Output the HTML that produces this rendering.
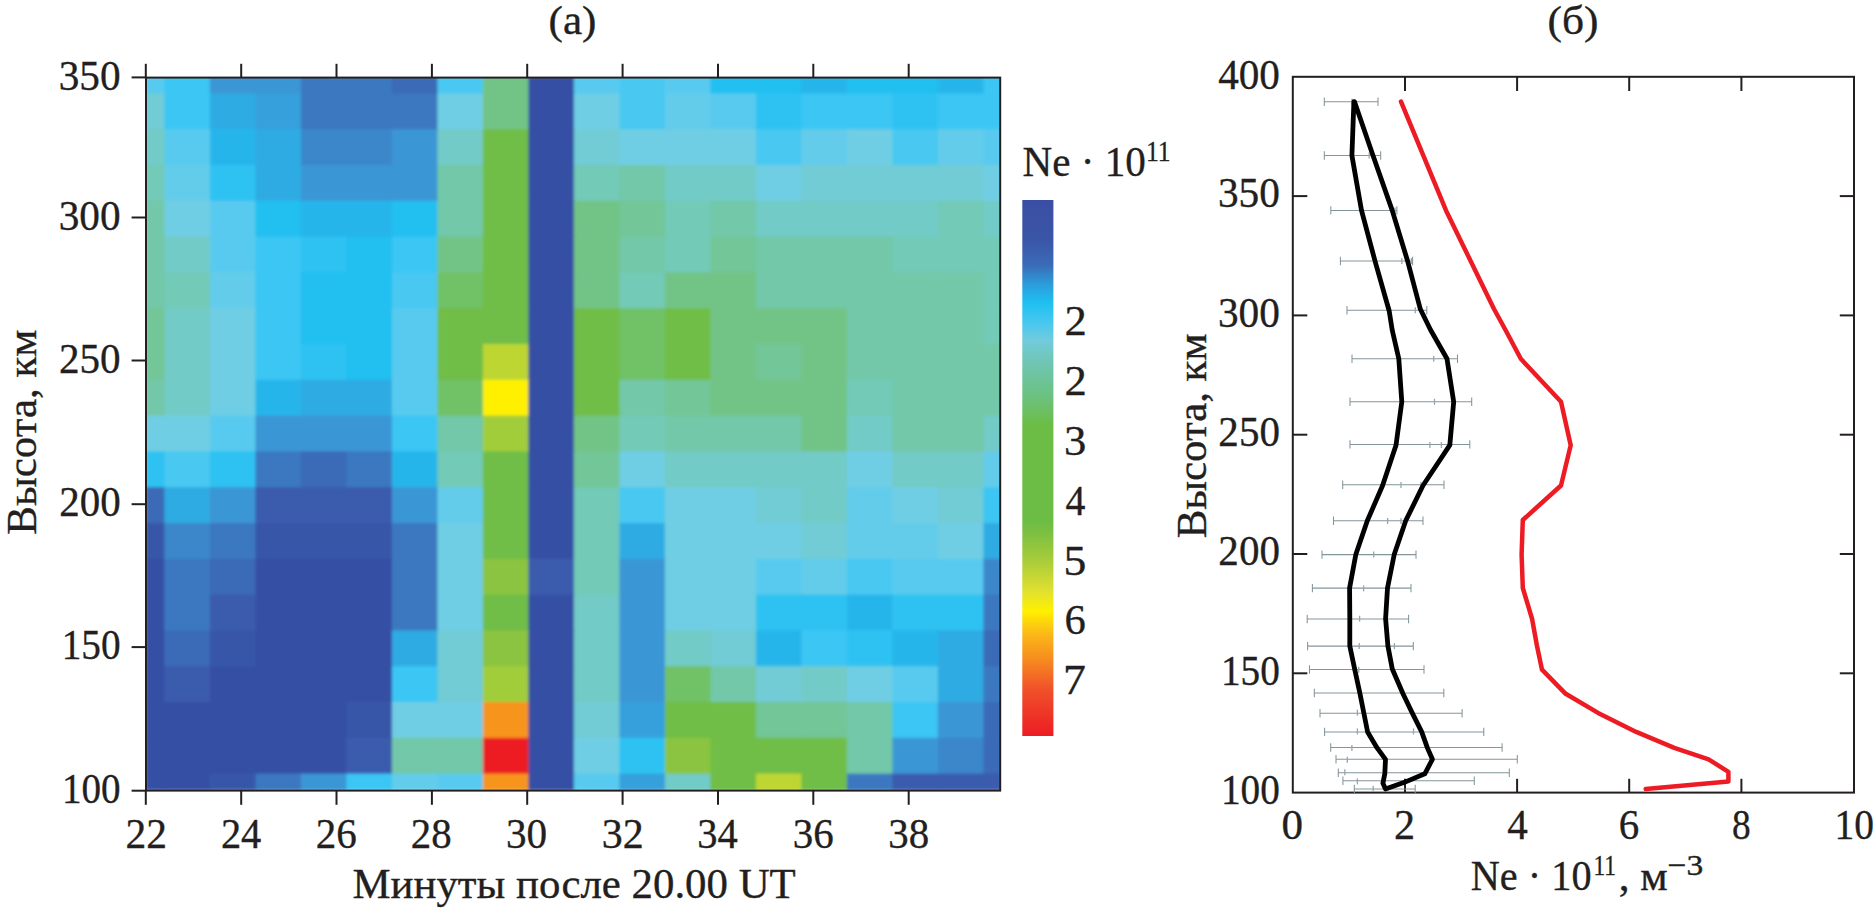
<!DOCTYPE html>
<html lang="ru"><head><meta charset="utf-8"><title>Figure</title>
<style>html,body{margin:0;padding:0;background:#fff}svg{display:block}text{font-family:"Liberation Serif","DejaVu Serif",serif;fill:#231f20;stroke:#231f20;stroke-width:.35px}</style></head><body>
<svg width="1874" height="912" viewBox="0 0 1874 912">
<rect width="1874" height="912" fill="#fff"/>
<defs><clipPath id="hc"><rect x="146" y="77" width="855" height="713"/></clipPath>
<filter id="bl" x="-5%" y="-5%" width="110%" height="110%"><feGaussianBlur stdDeviation="1.5"/></filter>
<linearGradient id="cb" x1="0" y1="0" x2="0" y2="1"><stop offset="0.0000" stop-color="#3a4fa3"/><stop offset="0.0733" stop-color="#3a55a6"/><stop offset="0.1218" stop-color="#3a6cb8"/><stop offset="0.1591" stop-color="#2a9fdc"/><stop offset="0.1926" stop-color="#1fc0f2"/><stop offset="0.2336" stop-color="#4cc8ee"/><stop offset="0.2616" stop-color="#72cbdc"/><stop offset="0.3082" stop-color="#6fc5ae"/><stop offset="0.3642" stop-color="#6cc282"/><stop offset="0.4201" stop-color="#6cbd45"/><stop offset="0.5972" stop-color="#6cbd45"/><stop offset="0.6159" stop-color="#78bf42"/><stop offset="0.6681" stop-color="#a4cb3a"/><stop offset="0.7296" stop-color="#e0e030"/><stop offset="0.7669" stop-color="#fff000"/><stop offset="0.8098" stop-color="#fbb818"/><stop offset="0.8527" stop-color="#f7901e"/><stop offset="0.9142" stop-color="#f0502a"/><stop offset="1.0000" stop-color="#ed1c24"/></linearGradient></defs>
<g clip-path="url(#hc)"><g filter="url(#bl)"><rect x="145.4" y="76.4" width="20.2" height="18.2" fill="#58caef"/>
<rect x="164.4" y="76.4" width="46.7" height="18.2" fill="#3ac6f4"/>
<rect x="209.9" y="76.4" width="46.7" height="18.2" fill="#3a96d5"/>
<rect x="255.4" y="76.4" width="46.7" height="18.2" fill="#3a96d5"/>
<rect x="300.9" y="76.4" width="46.7" height="18.2" fill="#3b78c0"/>
<rect x="346.4" y="76.4" width="46.7" height="18.2" fill="#3b78c0"/>
<rect x="391.9" y="76.4" width="46.7" height="18.2" fill="#3a6ab6"/>
<rect x="437.4" y="76.4" width="46.7" height="18.2" fill="#49c8f2"/>
<rect x="482.9" y="76.4" width="46.7" height="18.2" fill="#72c486"/>
<rect x="528.4" y="76.4" width="46.7" height="18.2" fill="#3650a4"/>
<rect x="573.9" y="76.4" width="46.7" height="18.2" fill="#58caef"/>
<rect x="619.4" y="76.4" width="46.7" height="18.2" fill="#49c8f2"/>
<rect x="664.9" y="76.4" width="46.7" height="18.2" fill="#58caef"/>
<rect x="710.4" y="76.4" width="46.7" height="18.2" fill="#20bff1"/>
<rect x="755.9" y="76.4" width="46.7" height="18.2" fill="#20bff1"/>
<rect x="801.4" y="76.4" width="46.7" height="18.2" fill="#27b5ea"/>
<rect x="846.9" y="76.4" width="46.7" height="18.2" fill="#20bff1"/>
<rect x="892.4" y="76.4" width="46.7" height="18.2" fill="#20bff1"/>
<rect x="937.9" y="76.4" width="46.7" height="18.2" fill="#27b5ea"/>
<rect x="983.4" y="76.4" width="18.2" height="18.2" fill="#3ac6f4"/>
<rect x="145.4" y="93.4" width="20.2" height="37.0" fill="#71ccd5"/>
<rect x="164.4" y="93.4" width="46.7" height="37.0" fill="#3ac6f4"/>
<rect x="209.9" y="93.4" width="46.7" height="37.0" fill="#2eabe3"/>
<rect x="255.4" y="93.4" width="46.7" height="37.0" fill="#34a0dc"/>
<rect x="300.9" y="93.4" width="46.7" height="37.0" fill="#3b78c0"/>
<rect x="346.4" y="93.4" width="46.7" height="37.0" fill="#3b78c0"/>
<rect x="391.9" y="93.4" width="46.7" height="37.0" fill="#3b78c0"/>
<rect x="437.4" y="93.4" width="46.7" height="37.0" fill="#70cee4"/>
<rect x="482.9" y="93.4" width="46.7" height="37.0" fill="#72c486"/>
<rect x="528.4" y="93.4" width="46.7" height="37.0" fill="#3650a4"/>
<rect x="573.9" y="93.4" width="46.7" height="37.0" fill="#70cee4"/>
<rect x="619.4" y="93.4" width="46.7" height="37.0" fill="#49c8f2"/>
<rect x="664.9" y="93.4" width="46.7" height="37.0" fill="#64ccea"/>
<rect x="710.4" y="93.4" width="46.7" height="37.0" fill="#58caef"/>
<rect x="755.9" y="93.4" width="46.7" height="37.0" fill="#2dc2f2"/>
<rect x="801.4" y="93.4" width="46.7" height="37.0" fill="#3ac6f4"/>
<rect x="846.9" y="93.4" width="46.7" height="37.0" fill="#3ac6f4"/>
<rect x="892.4" y="93.4" width="46.7" height="37.0" fill="#2dc2f2"/>
<rect x="937.9" y="93.4" width="46.7" height="37.0" fill="#3ac6f4"/>
<rect x="983.4" y="93.4" width="18.2" height="37.0" fill="#3ac6f4"/>
<rect x="145.4" y="129.2" width="20.2" height="37.0" fill="#72cbc6"/>
<rect x="164.4" y="129.2" width="46.7" height="37.0" fill="#58caef"/>
<rect x="209.9" y="129.2" width="46.7" height="37.0" fill="#27b5ea"/>
<rect x="255.4" y="129.2" width="46.7" height="37.0" fill="#2eabe3"/>
<rect x="300.9" y="129.2" width="46.7" height="37.0" fill="#3a87ca"/>
<rect x="346.4" y="129.2" width="46.7" height="37.0" fill="#3a87ca"/>
<rect x="391.9" y="129.2" width="46.7" height="37.0" fill="#3a96d5"/>
<rect x="437.4" y="129.2" width="46.7" height="37.0" fill="#72cbc6"/>
<rect x="482.9" y="129.2" width="46.7" height="37.0" fill="#70be46"/>
<rect x="528.4" y="129.2" width="46.7" height="37.0" fill="#3650a4"/>
<rect x="573.9" y="129.2" width="46.7" height="37.0" fill="#71ccd5"/>
<rect x="619.4" y="129.2" width="46.7" height="37.0" fill="#70cee4"/>
<rect x="664.9" y="129.2" width="46.7" height="37.0" fill="#70cee4"/>
<rect x="710.4" y="129.2" width="46.7" height="37.0" fill="#70cee4"/>
<rect x="755.9" y="129.2" width="46.7" height="37.0" fill="#49c8f2"/>
<rect x="801.4" y="129.2" width="46.7" height="37.0" fill="#64ccea"/>
<rect x="846.9" y="129.2" width="46.7" height="37.0" fill="#70cee4"/>
<rect x="892.4" y="129.2" width="46.7" height="37.0" fill="#49c8f2"/>
<rect x="937.9" y="129.2" width="46.7" height="37.0" fill="#64ccea"/>
<rect x="983.4" y="129.2" width="18.2" height="37.0" fill="#58caef"/>
<rect x="145.4" y="165.0" width="20.2" height="37.0" fill="#72cab7"/>
<rect x="164.4" y="165.0" width="46.7" height="37.0" fill="#64ccea"/>
<rect x="209.9" y="165.0" width="46.7" height="37.0" fill="#2dc2f2"/>
<rect x="255.4" y="165.0" width="46.7" height="37.0" fill="#2eabe3"/>
<rect x="300.9" y="165.0" width="46.7" height="37.0" fill="#3a96d5"/>
<rect x="346.4" y="165.0" width="46.7" height="37.0" fill="#3a96d5"/>
<rect x="391.9" y="165.0" width="46.7" height="37.0" fill="#3a96d5"/>
<rect x="437.4" y="165.0" width="46.7" height="37.0" fill="#72c8a8"/>
<rect x="482.9" y="165.0" width="46.7" height="37.0" fill="#70be46"/>
<rect x="528.4" y="165.0" width="46.7" height="37.0" fill="#3650a4"/>
<rect x="573.9" y="165.0" width="46.7" height="37.0" fill="#72cab7"/>
<rect x="619.4" y="165.0" width="46.7" height="37.0" fill="#72c8a8"/>
<rect x="664.9" y="165.0" width="46.7" height="37.0" fill="#72cbc6"/>
<rect x="710.4" y="165.0" width="46.7" height="37.0" fill="#72cbc6"/>
<rect x="755.9" y="165.0" width="46.7" height="37.0" fill="#70cee4"/>
<rect x="801.4" y="165.0" width="46.7" height="37.0" fill="#71ccd5"/>
<rect x="846.9" y="165.0" width="46.7" height="37.0" fill="#71ccd5"/>
<rect x="892.4" y="165.0" width="46.7" height="37.0" fill="#71ccd5"/>
<rect x="937.9" y="165.0" width="46.7" height="37.0" fill="#71ccd5"/>
<rect x="983.4" y="165.0" width="18.2" height="37.0" fill="#70cee4"/>
<rect x="145.4" y="200.8" width="20.2" height="37.0" fill="#72c8a8"/>
<rect x="164.4" y="200.8" width="46.7" height="37.0" fill="#70cee4"/>
<rect x="209.9" y="200.8" width="46.7" height="37.0" fill="#58caef"/>
<rect x="255.4" y="200.8" width="46.7" height="37.0" fill="#20bff1"/>
<rect x="300.9" y="200.8" width="46.7" height="37.0" fill="#27b5ea"/>
<rect x="346.4" y="200.8" width="46.7" height="37.0" fill="#27b5ea"/>
<rect x="391.9" y="200.8" width="46.7" height="37.0" fill="#20bff1"/>
<rect x="437.4" y="200.8" width="46.7" height="37.0" fill="#72c8a8"/>
<rect x="482.9" y="200.8" width="46.7" height="37.0" fill="#70be46"/>
<rect x="528.4" y="200.8" width="46.7" height="37.0" fill="#3650a4"/>
<rect x="573.9" y="200.8" width="46.7" height="37.0" fill="#72c486"/>
<rect x="619.4" y="200.8" width="46.7" height="37.0" fill="#72c697"/>
<rect x="664.9" y="200.8" width="46.7" height="37.0" fill="#72cab7"/>
<rect x="710.4" y="200.8" width="46.7" height="37.0" fill="#72c8a8"/>
<rect x="755.9" y="200.8" width="46.7" height="37.0" fill="#72cbc6"/>
<rect x="801.4" y="200.8" width="46.7" height="37.0" fill="#72cbc6"/>
<rect x="846.9" y="200.8" width="46.7" height="37.0" fill="#72cbc6"/>
<rect x="892.4" y="200.8" width="46.7" height="37.0" fill="#72cbc6"/>
<rect x="937.9" y="200.8" width="46.7" height="37.0" fill="#72cab7"/>
<rect x="983.4" y="200.8" width="18.2" height="37.0" fill="#72cbc6"/>
<rect x="145.4" y="236.6" width="20.2" height="37.0" fill="#72c8a8"/>
<rect x="164.4" y="236.6" width="46.7" height="37.0" fill="#72cbc6"/>
<rect x="209.9" y="236.6" width="46.7" height="37.0" fill="#58caef"/>
<rect x="255.4" y="236.6" width="46.7" height="37.0" fill="#3ac6f4"/>
<rect x="300.9" y="236.6" width="46.7" height="37.0" fill="#2dc2f2"/>
<rect x="346.4" y="236.6" width="46.7" height="37.0" fill="#20bff1"/>
<rect x="391.9" y="236.6" width="46.7" height="37.0" fill="#3ac6f4"/>
<rect x="437.4" y="236.6" width="46.7" height="37.0" fill="#72c486"/>
<rect x="482.9" y="236.6" width="46.7" height="37.0" fill="#70be46"/>
<rect x="528.4" y="236.6" width="46.7" height="37.0" fill="#3650a4"/>
<rect x="573.9" y="236.6" width="46.7" height="37.0" fill="#72c486"/>
<rect x="619.4" y="236.6" width="46.7" height="37.0" fill="#72c8a8"/>
<rect x="664.9" y="236.6" width="46.7" height="37.0" fill="#72cab7"/>
<rect x="710.4" y="236.6" width="46.7" height="37.0" fill="#72c697"/>
<rect x="755.9" y="236.6" width="46.7" height="37.0" fill="#72c8a8"/>
<rect x="801.4" y="236.6" width="46.7" height="37.0" fill="#72c8a8"/>
<rect x="846.9" y="236.6" width="46.7" height="37.0" fill="#72c8a8"/>
<rect x="892.4" y="236.6" width="46.7" height="37.0" fill="#72cab7"/>
<rect x="937.9" y="236.6" width="46.7" height="37.0" fill="#72cab7"/>
<rect x="983.4" y="236.6" width="18.2" height="37.0" fill="#72cab7"/>
<rect x="145.4" y="272.4" width="20.2" height="37.0" fill="#72c8a8"/>
<rect x="164.4" y="272.4" width="46.7" height="37.0" fill="#72cab7"/>
<rect x="209.9" y="272.4" width="46.7" height="37.0" fill="#64ccea"/>
<rect x="255.4" y="272.4" width="46.7" height="37.0" fill="#3ac6f4"/>
<rect x="300.9" y="272.4" width="46.7" height="37.0" fill="#20bff1"/>
<rect x="346.4" y="272.4" width="46.7" height="37.0" fill="#20bff1"/>
<rect x="391.9" y="272.4" width="46.7" height="37.0" fill="#49c8f2"/>
<rect x="437.4" y="272.4" width="46.7" height="37.0" fill="#71c166"/>
<rect x="482.9" y="272.4" width="46.7" height="37.0" fill="#70be46"/>
<rect x="528.4" y="272.4" width="46.7" height="37.0" fill="#3650a4"/>
<rect x="573.9" y="272.4" width="46.7" height="37.0" fill="#72c486"/>
<rect x="619.4" y="272.4" width="46.7" height="37.0" fill="#72cab7"/>
<rect x="664.9" y="272.4" width="46.7" height="37.0" fill="#72c486"/>
<rect x="710.4" y="272.4" width="46.7" height="37.0" fill="#72c486"/>
<rect x="755.9" y="272.4" width="46.7" height="37.0" fill="#72c8a8"/>
<rect x="801.4" y="272.4" width="46.7" height="37.0" fill="#72c8a8"/>
<rect x="846.9" y="272.4" width="46.7" height="37.0" fill="#72c8a8"/>
<rect x="892.4" y="272.4" width="46.7" height="37.0" fill="#72c8a8"/>
<rect x="937.9" y="272.4" width="46.7" height="37.0" fill="#72c8a8"/>
<rect x="983.4" y="272.4" width="18.2" height="37.0" fill="#72cab7"/>
<rect x="145.4" y="308.2" width="20.2" height="37.0" fill="#72c697"/>
<rect x="164.4" y="308.2" width="46.7" height="37.0" fill="#72cbc6"/>
<rect x="209.9" y="308.2" width="46.7" height="37.0" fill="#70cee4"/>
<rect x="255.4" y="308.2" width="46.7" height="37.0" fill="#3ac6f4"/>
<rect x="300.9" y="308.2" width="46.7" height="37.0" fill="#20bff1"/>
<rect x="346.4" y="308.2" width="46.7" height="37.0" fill="#20bff1"/>
<rect x="391.9" y="308.2" width="46.7" height="37.0" fill="#58caef"/>
<rect x="437.4" y="308.2" width="46.7" height="37.0" fill="#70be46"/>
<rect x="482.9" y="308.2" width="46.7" height="37.0" fill="#70be46"/>
<rect x="528.4" y="308.2" width="46.7" height="37.0" fill="#3650a4"/>
<rect x="573.9" y="308.2" width="46.7" height="37.0" fill="#70be46"/>
<rect x="619.4" y="308.2" width="46.7" height="37.0" fill="#71c166"/>
<rect x="664.9" y="308.2" width="46.7" height="37.0" fill="#70be46"/>
<rect x="710.4" y="308.2" width="46.7" height="37.0" fill="#72c486"/>
<rect x="755.9" y="308.2" width="46.7" height="37.0" fill="#72c486"/>
<rect x="801.4" y="308.2" width="46.7" height="37.0" fill="#72c486"/>
<rect x="846.9" y="308.2" width="46.7" height="37.0" fill="#72c8a8"/>
<rect x="892.4" y="308.2" width="46.7" height="37.0" fill="#72c8a8"/>
<rect x="937.9" y="308.2" width="46.7" height="37.0" fill="#72c8a8"/>
<rect x="983.4" y="308.2" width="18.2" height="37.0" fill="#72cab7"/>
<rect x="145.4" y="344.0" width="20.2" height="37.0" fill="#72c697"/>
<rect x="164.4" y="344.0" width="46.7" height="37.0" fill="#72cbc6"/>
<rect x="209.9" y="344.0" width="46.7" height="37.0" fill="#70cee4"/>
<rect x="255.4" y="344.0" width="46.7" height="37.0" fill="#3ac6f4"/>
<rect x="300.9" y="344.0" width="46.7" height="37.0" fill="#2dc2f2"/>
<rect x="346.4" y="344.0" width="46.7" height="37.0" fill="#20bff1"/>
<rect x="391.9" y="344.0" width="46.7" height="37.0" fill="#58caef"/>
<rect x="437.4" y="344.0" width="46.7" height="37.0" fill="#70be46"/>
<rect x="482.9" y="344.0" width="46.7" height="37.0" fill="#bdd632"/>
<rect x="528.4" y="344.0" width="46.7" height="37.0" fill="#3650a4"/>
<rect x="573.9" y="344.0" width="46.7" height="37.0" fill="#70be46"/>
<rect x="619.4" y="344.0" width="46.7" height="37.0" fill="#71c166"/>
<rect x="664.9" y="344.0" width="46.7" height="37.0" fill="#70be46"/>
<rect x="710.4" y="344.0" width="46.7" height="37.0" fill="#72c486"/>
<rect x="755.9" y="344.0" width="46.7" height="37.0" fill="#72c697"/>
<rect x="801.4" y="344.0" width="46.7" height="37.0" fill="#72c486"/>
<rect x="846.9" y="344.0" width="46.7" height="37.0" fill="#72c8a8"/>
<rect x="892.4" y="344.0" width="46.7" height="37.0" fill="#72c8a8"/>
<rect x="937.9" y="344.0" width="46.7" height="37.0" fill="#72c8a8"/>
<rect x="983.4" y="344.0" width="18.2" height="37.0" fill="#72c8a8"/>
<rect x="145.4" y="379.8" width="20.2" height="37.0" fill="#72c8a8"/>
<rect x="164.4" y="379.8" width="46.7" height="37.0" fill="#72cbc6"/>
<rect x="209.9" y="379.8" width="46.7" height="37.0" fill="#70cee4"/>
<rect x="255.4" y="379.8" width="46.7" height="37.0" fill="#27b5ea"/>
<rect x="300.9" y="379.8" width="46.7" height="37.0" fill="#2eabe3"/>
<rect x="346.4" y="379.8" width="46.7" height="37.0" fill="#2eabe3"/>
<rect x="391.9" y="379.8" width="46.7" height="37.0" fill="#58caef"/>
<rect x="437.4" y="379.8" width="46.7" height="37.0" fill="#71c166"/>
<rect x="482.9" y="379.8" width="46.7" height="37.0" fill="#fff000"/>
<rect x="528.4" y="379.8" width="46.7" height="37.0" fill="#3650a4"/>
<rect x="573.9" y="379.8" width="46.7" height="37.0" fill="#70be46"/>
<rect x="619.4" y="379.8" width="46.7" height="37.0" fill="#72c8a8"/>
<rect x="664.9" y="379.8" width="46.7" height="37.0" fill="#72c697"/>
<rect x="710.4" y="379.8" width="46.7" height="37.0" fill="#72c486"/>
<rect x="755.9" y="379.8" width="46.7" height="37.0" fill="#72c486"/>
<rect x="801.4" y="379.8" width="46.7" height="37.0" fill="#72c486"/>
<rect x="846.9" y="379.8" width="46.7" height="37.0" fill="#72cab7"/>
<rect x="892.4" y="379.8" width="46.7" height="37.0" fill="#72c8a8"/>
<rect x="937.9" y="379.8" width="46.7" height="37.0" fill="#72c8a8"/>
<rect x="983.4" y="379.8" width="18.2" height="37.0" fill="#72c8a8"/>
<rect x="145.4" y="415.6" width="20.2" height="37.0" fill="#70cee4"/>
<rect x="164.4" y="415.6" width="46.7" height="37.0" fill="#70cee4"/>
<rect x="209.9" y="415.6" width="46.7" height="37.0" fill="#58caef"/>
<rect x="255.4" y="415.6" width="46.7" height="37.0" fill="#3a96d5"/>
<rect x="300.9" y="415.6" width="46.7" height="37.0" fill="#3a96d5"/>
<rect x="346.4" y="415.6" width="46.7" height="37.0" fill="#3a96d5"/>
<rect x="391.9" y="415.6" width="46.7" height="37.0" fill="#3ac6f4"/>
<rect x="437.4" y="415.6" width="46.7" height="37.0" fill="#72c8a8"/>
<rect x="482.9" y="415.6" width="46.7" height="37.0" fill="#a2cd3b"/>
<rect x="528.4" y="415.6" width="46.7" height="37.0" fill="#3650a4"/>
<rect x="573.9" y="415.6" width="46.7" height="37.0" fill="#72c486"/>
<rect x="619.4" y="415.6" width="46.7" height="37.0" fill="#72cab7"/>
<rect x="664.9" y="415.6" width="46.7" height="37.0" fill="#72c8a8"/>
<rect x="710.4" y="415.6" width="46.7" height="37.0" fill="#72c8a8"/>
<rect x="755.9" y="415.6" width="46.7" height="37.0" fill="#72c8a8"/>
<rect x="801.4" y="415.6" width="46.7" height="37.0" fill="#72c486"/>
<rect x="846.9" y="415.6" width="46.7" height="37.0" fill="#72cbc6"/>
<rect x="892.4" y="415.6" width="46.7" height="37.0" fill="#72c8a8"/>
<rect x="937.9" y="415.6" width="46.7" height="37.0" fill="#72c8a8"/>
<rect x="983.4" y="415.6" width="18.2" height="37.0" fill="#72cbc6"/>
<rect x="145.4" y="451.4" width="20.2" height="37.0" fill="#2dc2f2"/>
<rect x="164.4" y="451.4" width="46.7" height="37.0" fill="#49c8f2"/>
<rect x="209.9" y="451.4" width="46.7" height="37.0" fill="#2dc2f2"/>
<rect x="255.4" y="451.4" width="46.7" height="37.0" fill="#3b78c0"/>
<rect x="300.9" y="451.4" width="46.7" height="37.0" fill="#3a6ab6"/>
<rect x="346.4" y="451.4" width="46.7" height="37.0" fill="#3b78c0"/>
<rect x="391.9" y="451.4" width="46.7" height="37.0" fill="#27b5ea"/>
<rect x="437.4" y="451.4" width="46.7" height="37.0" fill="#72cab7"/>
<rect x="482.9" y="451.4" width="46.7" height="37.0" fill="#70be46"/>
<rect x="528.4" y="451.4" width="46.7" height="37.0" fill="#3650a4"/>
<rect x="573.9" y="451.4" width="46.7" height="37.0" fill="#72c697"/>
<rect x="619.4" y="451.4" width="46.7" height="37.0" fill="#70cee4"/>
<rect x="664.9" y="451.4" width="46.7" height="37.0" fill="#72cbc6"/>
<rect x="710.4" y="451.4" width="46.7" height="37.0" fill="#72cbc6"/>
<rect x="755.9" y="451.4" width="46.7" height="37.0" fill="#72cbc6"/>
<rect x="801.4" y="451.4" width="46.7" height="37.0" fill="#72cbc6"/>
<rect x="846.9" y="451.4" width="46.7" height="37.0" fill="#70cee4"/>
<rect x="892.4" y="451.4" width="46.7" height="37.0" fill="#72cbc6"/>
<rect x="937.9" y="451.4" width="46.7" height="37.0" fill="#72cbc6"/>
<rect x="983.4" y="451.4" width="18.2" height="37.0" fill="#64ccea"/>
<rect x="145.4" y="487.2" width="20.2" height="37.0" fill="#3a6ab6"/>
<rect x="164.4" y="487.2" width="46.7" height="37.0" fill="#2eabe3"/>
<rect x="209.9" y="487.2" width="46.7" height="37.0" fill="#3a96d5"/>
<rect x="255.4" y="487.2" width="46.7" height="37.0" fill="#3a5cad"/>
<rect x="300.9" y="487.2" width="46.7" height="37.0" fill="#3a5cad"/>
<rect x="346.4" y="487.2" width="46.7" height="37.0" fill="#3a5cad"/>
<rect x="391.9" y="487.2" width="46.7" height="37.0" fill="#3a96d5"/>
<rect x="437.4" y="487.2" width="46.7" height="37.0" fill="#64ccea"/>
<rect x="482.9" y="487.2" width="46.7" height="37.0" fill="#70be46"/>
<rect x="528.4" y="487.2" width="46.7" height="37.0" fill="#3650a4"/>
<rect x="573.9" y="487.2" width="46.7" height="37.0" fill="#72cab7"/>
<rect x="619.4" y="487.2" width="46.7" height="37.0" fill="#49c8f2"/>
<rect x="664.9" y="487.2" width="46.7" height="37.0" fill="#70cee4"/>
<rect x="710.4" y="487.2" width="46.7" height="37.0" fill="#70cee4"/>
<rect x="755.9" y="487.2" width="46.7" height="37.0" fill="#71ccd5"/>
<rect x="801.4" y="487.2" width="46.7" height="37.0" fill="#72cbc6"/>
<rect x="846.9" y="487.2" width="46.7" height="37.0" fill="#64ccea"/>
<rect x="892.4" y="487.2" width="46.7" height="37.0" fill="#70cee4"/>
<rect x="937.9" y="487.2" width="46.7" height="37.0" fill="#71ccd5"/>
<rect x="983.4" y="487.2" width="18.2" height="37.0" fill="#3ac6f4"/>
<rect x="145.4" y="523.0" width="20.2" height="37.0" fill="#3856a8"/>
<rect x="164.4" y="523.0" width="46.7" height="37.0" fill="#3a87ca"/>
<rect x="209.9" y="523.0" width="46.7" height="37.0" fill="#3b78c0"/>
<rect x="255.4" y="523.0" width="46.7" height="37.0" fill="#3856a8"/>
<rect x="300.9" y="523.0" width="46.7" height="37.0" fill="#3856a8"/>
<rect x="346.4" y="523.0" width="46.7" height="37.0" fill="#3856a8"/>
<rect x="391.9" y="523.0" width="46.7" height="37.0" fill="#3b78c0"/>
<rect x="437.4" y="523.0" width="46.7" height="37.0" fill="#70cee4"/>
<rect x="482.9" y="523.0" width="46.7" height="37.0" fill="#70be46"/>
<rect x="528.4" y="523.0" width="46.7" height="37.0" fill="#3650a4"/>
<rect x="573.9" y="523.0" width="46.7" height="37.0" fill="#72cab7"/>
<rect x="619.4" y="523.0" width="46.7" height="37.0" fill="#2eabe3"/>
<rect x="664.9" y="523.0" width="46.7" height="37.0" fill="#70cee4"/>
<rect x="710.4" y="523.0" width="46.7" height="37.0" fill="#70cee4"/>
<rect x="755.9" y="523.0" width="46.7" height="37.0" fill="#70cee4"/>
<rect x="801.4" y="523.0" width="46.7" height="37.0" fill="#71ccd5"/>
<rect x="846.9" y="523.0" width="46.7" height="37.0" fill="#64ccea"/>
<rect x="892.4" y="523.0" width="46.7" height="37.0" fill="#64ccea"/>
<rect x="937.9" y="523.0" width="46.7" height="37.0" fill="#70cee4"/>
<rect x="983.4" y="523.0" width="18.2" height="37.0" fill="#2eabe3"/>
<rect x="145.4" y="558.8" width="20.2" height="37.0" fill="#3650a4"/>
<rect x="164.4" y="558.8" width="46.7" height="37.0" fill="#3b78c0"/>
<rect x="209.9" y="558.8" width="46.7" height="37.0" fill="#3a6ab6"/>
<rect x="255.4" y="558.8" width="46.7" height="37.0" fill="#3650a4"/>
<rect x="300.9" y="558.8" width="46.7" height="37.0" fill="#3650a4"/>
<rect x="346.4" y="558.8" width="46.7" height="37.0" fill="#3650a4"/>
<rect x="391.9" y="558.8" width="46.7" height="37.0" fill="#3b78c0"/>
<rect x="437.4" y="558.8" width="46.7" height="37.0" fill="#70cee4"/>
<rect x="482.9" y="558.8" width="46.7" height="37.0" fill="#8ac440"/>
<rect x="528.4" y="558.8" width="46.7" height="37.0" fill="#3a5cad"/>
<rect x="573.9" y="558.8" width="46.7" height="37.0" fill="#72cab7"/>
<rect x="619.4" y="558.8" width="46.7" height="37.0" fill="#3a96d5"/>
<rect x="664.9" y="558.8" width="46.7" height="37.0" fill="#70cee4"/>
<rect x="710.4" y="558.8" width="46.7" height="37.0" fill="#70cee4"/>
<rect x="755.9" y="558.8" width="46.7" height="37.0" fill="#58caef"/>
<rect x="801.4" y="558.8" width="46.7" height="37.0" fill="#64ccea"/>
<rect x="846.9" y="558.8" width="46.7" height="37.0" fill="#49c8f2"/>
<rect x="892.4" y="558.8" width="46.7" height="37.0" fill="#58caef"/>
<rect x="937.9" y="558.8" width="46.7" height="37.0" fill="#58caef"/>
<rect x="983.4" y="558.8" width="18.2" height="37.0" fill="#3a87ca"/>
<rect x="145.4" y="594.6" width="20.2" height="37.0" fill="#3650a4"/>
<rect x="164.4" y="594.6" width="46.7" height="37.0" fill="#3b78c0"/>
<rect x="209.9" y="594.6" width="46.7" height="37.0" fill="#3a5cad"/>
<rect x="255.4" y="594.6" width="46.7" height="37.0" fill="#3650a4"/>
<rect x="300.9" y="594.6" width="46.7" height="37.0" fill="#3650a4"/>
<rect x="346.4" y="594.6" width="46.7" height="37.0" fill="#3650a4"/>
<rect x="391.9" y="594.6" width="46.7" height="37.0" fill="#3b78c0"/>
<rect x="437.4" y="594.6" width="46.7" height="37.0" fill="#70cee4"/>
<rect x="482.9" y="594.6" width="46.7" height="37.0" fill="#70be46"/>
<rect x="528.4" y="594.6" width="46.7" height="37.0" fill="#3650a4"/>
<rect x="573.9" y="594.6" width="46.7" height="37.0" fill="#72cbc6"/>
<rect x="619.4" y="594.6" width="46.7" height="37.0" fill="#3a96d5"/>
<rect x="664.9" y="594.6" width="46.7" height="37.0" fill="#70cee4"/>
<rect x="710.4" y="594.6" width="46.7" height="37.0" fill="#70cee4"/>
<rect x="755.9" y="594.6" width="46.7" height="37.0" fill="#2dc2f2"/>
<rect x="801.4" y="594.6" width="46.7" height="37.0" fill="#2dc2f2"/>
<rect x="846.9" y="594.6" width="46.7" height="37.0" fill="#27b5ea"/>
<rect x="892.4" y="594.6" width="46.7" height="37.0" fill="#2dc2f2"/>
<rect x="937.9" y="594.6" width="46.7" height="37.0" fill="#2dc2f2"/>
<rect x="983.4" y="594.6" width="18.2" height="37.0" fill="#3b78c0"/>
<rect x="145.4" y="630.4" width="20.2" height="37.0" fill="#3650a4"/>
<rect x="164.4" y="630.4" width="46.7" height="37.0" fill="#3a6ab6"/>
<rect x="209.9" y="630.4" width="46.7" height="37.0" fill="#3856a8"/>
<rect x="255.4" y="630.4" width="46.7" height="37.0" fill="#3650a4"/>
<rect x="300.9" y="630.4" width="46.7" height="37.0" fill="#3650a4"/>
<rect x="346.4" y="630.4" width="46.7" height="37.0" fill="#3650a4"/>
<rect x="391.9" y="630.4" width="46.7" height="37.0" fill="#2eabe3"/>
<rect x="437.4" y="630.4" width="46.7" height="37.0" fill="#71ccd5"/>
<rect x="482.9" y="630.4" width="46.7" height="37.0" fill="#8ac440"/>
<rect x="528.4" y="630.4" width="46.7" height="37.0" fill="#3650a4"/>
<rect x="573.9" y="630.4" width="46.7" height="37.0" fill="#72cbc6"/>
<rect x="619.4" y="630.4" width="46.7" height="37.0" fill="#3a96d5"/>
<rect x="664.9" y="630.4" width="46.7" height="37.0" fill="#72cbc6"/>
<rect x="710.4" y="630.4" width="46.7" height="37.0" fill="#71ccd5"/>
<rect x="755.9" y="630.4" width="46.7" height="37.0" fill="#27b5ea"/>
<rect x="801.4" y="630.4" width="46.7" height="37.0" fill="#3ac6f4"/>
<rect x="846.9" y="630.4" width="46.7" height="37.0" fill="#2dc2f2"/>
<rect x="892.4" y="630.4" width="46.7" height="37.0" fill="#27b5ea"/>
<rect x="937.9" y="630.4" width="46.7" height="37.0" fill="#2eabe3"/>
<rect x="983.4" y="630.4" width="18.2" height="37.0" fill="#3a6ab6"/>
<rect x="145.4" y="666.2" width="20.2" height="37.0" fill="#3650a4"/>
<rect x="164.4" y="666.2" width="46.7" height="37.0" fill="#3a5cad"/>
<rect x="209.9" y="666.2" width="46.7" height="37.0" fill="#3650a4"/>
<rect x="255.4" y="666.2" width="46.7" height="37.0" fill="#3650a4"/>
<rect x="300.9" y="666.2" width="46.7" height="37.0" fill="#3650a4"/>
<rect x="346.4" y="666.2" width="46.7" height="37.0" fill="#3650a4"/>
<rect x="391.9" y="666.2" width="46.7" height="37.0" fill="#3ac6f4"/>
<rect x="437.4" y="666.2" width="46.7" height="37.0" fill="#71ccd5"/>
<rect x="482.9" y="666.2" width="46.7" height="37.0" fill="#a2cd3b"/>
<rect x="528.4" y="666.2" width="46.7" height="37.0" fill="#3650a4"/>
<rect x="573.9" y="666.2" width="46.7" height="37.0" fill="#72cbc6"/>
<rect x="619.4" y="666.2" width="46.7" height="37.0" fill="#3a96d5"/>
<rect x="664.9" y="666.2" width="46.7" height="37.0" fill="#71c166"/>
<rect x="710.4" y="666.2" width="46.7" height="37.0" fill="#72c8a8"/>
<rect x="755.9" y="666.2" width="46.7" height="37.0" fill="#71ccd5"/>
<rect x="801.4" y="666.2" width="46.7" height="37.0" fill="#72cbc6"/>
<rect x="846.9" y="666.2" width="46.7" height="37.0" fill="#70cee4"/>
<rect x="892.4" y="666.2" width="46.7" height="37.0" fill="#58caef"/>
<rect x="937.9" y="666.2" width="46.7" height="37.0" fill="#2eabe3"/>
<rect x="983.4" y="666.2" width="18.2" height="37.0" fill="#3b78c0"/>
<rect x="145.4" y="702.0" width="20.2" height="37.0" fill="#3650a4"/>
<rect x="164.4" y="702.0" width="46.7" height="37.0" fill="#3650a4"/>
<rect x="209.9" y="702.0" width="46.7" height="37.0" fill="#3650a4"/>
<rect x="255.4" y="702.0" width="46.7" height="37.0" fill="#3650a4"/>
<rect x="300.9" y="702.0" width="46.7" height="37.0" fill="#3650a4"/>
<rect x="346.4" y="702.0" width="46.7" height="37.0" fill="#3856a8"/>
<rect x="391.9" y="702.0" width="46.7" height="37.0" fill="#70cee4"/>
<rect x="437.4" y="702.0" width="46.7" height="37.0" fill="#70cee4"/>
<rect x="482.9" y="702.0" width="46.7" height="37.0" fill="#f7941d"/>
<rect x="528.4" y="702.0" width="46.7" height="37.0" fill="#3650a4"/>
<rect x="573.9" y="702.0" width="46.7" height="37.0" fill="#71ccd5"/>
<rect x="619.4" y="702.0" width="46.7" height="37.0" fill="#34a0dc"/>
<rect x="664.9" y="702.0" width="46.7" height="37.0" fill="#70be46"/>
<rect x="710.4" y="702.0" width="46.7" height="37.0" fill="#70be46"/>
<rect x="755.9" y="702.0" width="46.7" height="37.0" fill="#72c697"/>
<rect x="801.4" y="702.0" width="46.7" height="37.0" fill="#72c697"/>
<rect x="846.9" y="702.0" width="46.7" height="37.0" fill="#72c8a8"/>
<rect x="892.4" y="702.0" width="46.7" height="37.0" fill="#3ac6f4"/>
<rect x="937.9" y="702.0" width="46.7" height="37.0" fill="#3a96d5"/>
<rect x="983.4" y="702.0" width="18.2" height="37.0" fill="#3a6ab6"/>
<rect x="145.4" y="737.8" width="20.2" height="37.0" fill="#3650a4"/>
<rect x="164.4" y="737.8" width="46.7" height="37.0" fill="#3650a4"/>
<rect x="209.9" y="737.8" width="46.7" height="37.0" fill="#3650a4"/>
<rect x="255.4" y="737.8" width="46.7" height="37.0" fill="#3650a4"/>
<rect x="300.9" y="737.8" width="46.7" height="37.0" fill="#3650a4"/>
<rect x="346.4" y="737.8" width="46.7" height="37.0" fill="#3a5cad"/>
<rect x="391.9" y="737.8" width="46.7" height="37.0" fill="#72c8a8"/>
<rect x="437.4" y="737.8" width="46.7" height="37.0" fill="#72c8a8"/>
<rect x="482.9" y="737.8" width="46.7" height="37.0" fill="#ed1c24"/>
<rect x="528.4" y="737.8" width="46.7" height="37.0" fill="#3650a4"/>
<rect x="573.9" y="737.8" width="46.7" height="37.0" fill="#70cee4"/>
<rect x="619.4" y="737.8" width="46.7" height="37.0" fill="#2dc2f2"/>
<rect x="664.9" y="737.8" width="46.7" height="37.0" fill="#8ac440"/>
<rect x="710.4" y="737.8" width="46.7" height="37.0" fill="#70be46"/>
<rect x="755.9" y="737.8" width="46.7" height="37.0" fill="#70be46"/>
<rect x="801.4" y="737.8" width="46.7" height="37.0" fill="#70be46"/>
<rect x="846.9" y="737.8" width="46.7" height="37.0" fill="#72c8a8"/>
<rect x="892.4" y="737.8" width="46.7" height="37.0" fill="#3a96d5"/>
<rect x="937.9" y="737.8" width="46.7" height="37.0" fill="#3a87ca"/>
<rect x="983.4" y="737.8" width="18.2" height="37.0" fill="#3a6ab6"/>
<rect x="145.4" y="773.6" width="20.2" height="17.0" fill="#3650a4"/>
<rect x="164.4" y="773.6" width="46.7" height="17.0" fill="#3650a4"/>
<rect x="209.9" y="773.6" width="46.7" height="17.0" fill="#3856a8"/>
<rect x="255.4" y="773.6" width="46.7" height="17.0" fill="#3b78c0"/>
<rect x="300.9" y="773.6" width="46.7" height="17.0" fill="#3a96d5"/>
<rect x="346.4" y="773.6" width="46.7" height="17.0" fill="#3ac6f4"/>
<rect x="391.9" y="773.6" width="46.7" height="17.0" fill="#64ccea"/>
<rect x="437.4" y="773.6" width="46.7" height="17.0" fill="#58caef"/>
<rect x="482.9" y="773.6" width="46.7" height="17.0" fill="#f7941d"/>
<rect x="528.4" y="773.6" width="46.7" height="17.0" fill="#3650a4"/>
<rect x="573.9" y="773.6" width="46.7" height="17.0" fill="#58caef"/>
<rect x="619.4" y="773.6" width="46.7" height="17.0" fill="#34a0dc"/>
<rect x="664.9" y="773.6" width="46.7" height="17.0" fill="#71cbc6"/>
<rect x="710.4" y="773.6" width="46.7" height="17.0" fill="#70be46"/>
<rect x="755.9" y="773.6" width="46.7" height="17.0" fill="#bdd632"/>
<rect x="801.4" y="773.6" width="46.7" height="17.0" fill="#70be46"/>
<rect x="846.9" y="773.6" width="46.7" height="17.0" fill="#3b78c0"/>
<rect x="892.4" y="773.6" width="46.7" height="17.0" fill="#3a5cad"/>
<rect x="937.9" y="773.6" width="46.7" height="17.0" fill="#3a5cad"/>
<rect x="983.4" y="773.6" width="18.2" height="17.0" fill="#3a5cad"/></g></g>
<g stroke="#231f20" stroke-width="2" fill="none">
<rect x="146" y="77.6" width="854.2" height="713"/>
<line x1="145.8" y1="63.8" x2="145.8" y2="77.6"/><line x1="145.8" y1="790.6" x2="145.8" y2="804.8"/>
<line x1="241.2" y1="63.8" x2="241.2" y2="77.6"/><line x1="241.2" y1="790.6" x2="241.2" y2="804.8"/>
<line x1="336.5" y1="63.8" x2="336.5" y2="77.6"/><line x1="336.5" y1="790.6" x2="336.5" y2="804.8"/>
<line x1="431.9" y1="63.8" x2="431.9" y2="77.6"/><line x1="431.9" y1="790.6" x2="431.9" y2="804.8"/>
<line x1="527.2" y1="63.8" x2="527.2" y2="77.6"/><line x1="527.2" y1="790.6" x2="527.2" y2="804.8"/>
<line x1="622.6" y1="63.8" x2="622.6" y2="77.6"/><line x1="622.6" y1="790.6" x2="622.6" y2="804.8"/>
<line x1="718.0" y1="63.8" x2="718.0" y2="77.6"/><line x1="718.0" y1="790.6" x2="718.0" y2="804.8"/>
<line x1="813.3" y1="63.8" x2="813.3" y2="77.6"/><line x1="813.3" y1="790.6" x2="813.3" y2="804.8"/>
<line x1="908.7" y1="63.8" x2="908.7" y2="77.6"/><line x1="908.7" y1="790.6" x2="908.7" y2="804.8"/>
<line x1="131.6" y1="77.4" x2="146" y2="77.4"/>
<line x1="131.6" y1="217.5" x2="146" y2="217.5"/>
<line x1="131.6" y1="360.5" x2="146" y2="360.5"/>
<line x1="131.6" y1="504.2" x2="146" y2="504.2"/>
<line x1="131.6" y1="647.1" x2="146" y2="647.1"/>
<line x1="131.6" y1="790.7" x2="146" y2="790.7"/>
</g>
<rect x="1022.3" y="200" width="31.1" height="536" fill="url(#cb)"/>
<g stroke="#231f20" stroke-width="2" fill="none">
<rect x="1292.8" y="76.8" width="561.2" height="715.8"/>
<line x1="1405.0" y1="76.8" x2="1405.0" y2="91"/><line x1="1405.0" y1="792.6" x2="1405.0" y2="778.8"/>
<line x1="1517.1" y1="76.8" x2="1517.1" y2="91"/><line x1="1517.1" y1="792.6" x2="1517.1" y2="778.8"/>
<line x1="1629.2" y1="76.8" x2="1629.2" y2="91"/><line x1="1629.2" y1="792.6" x2="1629.2" y2="778.8"/>
<line x1="1741.4" y1="76.8" x2="1741.4" y2="91"/><line x1="1741.4" y1="792.6" x2="1741.4" y2="778.8"/>
<line x1="1292.8" y1="196.1" x2="1307.3" y2="196.1"/><line x1="1854" y1="196.1" x2="1839.8" y2="196.1"/>
<line x1="1292.8" y1="315.4" x2="1307.3" y2="315.4"/><line x1="1854" y1="315.4" x2="1839.8" y2="315.4"/>
<line x1="1292.8" y1="434.7" x2="1307.3" y2="434.7"/><line x1="1854" y1="434.7" x2="1839.8" y2="434.7"/>
<line x1="1292.8" y1="554.0" x2="1307.3" y2="554.0"/><line x1="1854" y1="554.0" x2="1839.8" y2="554.0"/>
<line x1="1292.8" y1="673.3" x2="1307.3" y2="673.3"/><line x1="1854" y1="673.3" x2="1839.8" y2="673.3"/>
</g>
<g>
<text transform="translate(58.74 89.50) scale(0.9712 1)" font-size="42.5">350</text>
<text transform="translate(58.74 229.60) scale(0.9712 1)" font-size="42.5">300</text>
<text transform="translate(58.95 372.60) scale(0.9677 1)" font-size="42.5">250</text>
<text transform="translate(59.16 516.30) scale(0.9644 1)" font-size="42.5">200</text>
<text transform="translate(61.67 659.20) scale(0.9240 1)" font-size="42.5">150</text>
<text transform="translate(61.88 802.80) scale(0.9206 1)" font-size="42.5">100</text>
<text transform="translate(125.44 848.40) scale(0.9774 1)" font-size="42.5">22</text>
<text transform="translate(220.88 848.40) scale(0.9512 1)" font-size="42.5">24</text>
<text transform="translate(315.76 848.40) scale(0.9665 1)" font-size="42.5">26</text>
<text transform="translate(410.77 848.40) scale(0.9616 1)" font-size="42.5">28</text>
<text transform="translate(505.94 848.40) scale(0.9696 1)" font-size="42.5">30</text>
<text transform="translate(601.70 848.40) scale(0.9882 1)" font-size="42.5">32</text>
<text transform="translate(697.27 848.40) scale(0.9538 1)" font-size="42.5">34</text>
<text transform="translate(792.75 848.40) scale(0.9642 1)" font-size="42.5">36</text>
<text transform="translate(888.26 848.40) scale(0.9619 1)" font-size="42.5">38</text>
<text transform="translate(352.51 898.40) scale(1.0203 1)" font-size="42">Минуты после 20.00 UT</text>
<text transform="translate(548.58 34.40) scale(1.1053 1)" font-size="39">(а)</text>
<text transform="translate(1547.56 34.40) scale(1.1127 1)" font-size="39">(б)</text>
<text transform="translate(35.80 533.40) rotate(-90) scale(1.0098 1)" x="-1.27" font-size="42.5">Высота, км</text>
<text transform="translate(1205.70 537.10) rotate(-90) scale(1.0088 1)" x="-1.27" font-size="42.5">Высота, км</text>
<text transform="translate(1022.57 175.90) scale(0.9677 1)" font-size="42.5">Ne · 10</text>
<text transform="translate(1145.90 161.10) scale(0.8663 1)" font-size="29.5">11</text>
<text transform="translate(1064.41 335.40) scale(1.0502 1)" font-size="42.5">2</text>
<text transform="translate(1064.41 395.20) scale(1.0502 1)" font-size="42.5">2</text>
<text transform="translate(1063.97 455.00) scale(1.0502 1)" font-size="42.5">3</text>
<text transform="translate(1065.40 514.80) scale(0.9361 1)" font-size="42.5">4</text>
<text transform="translate(1063.46 574.60) scale(1.0765 1)" font-size="42.5">5</text>
<text transform="translate(1064.50 634.40) scale(1.0014 1)" font-size="42.5">6</text>
<text transform="translate(1063.00 694.20) scale(1.0765 1)" font-size="42.5">7</text>
<text transform="translate(1218.18 88.60) scale(0.9690 1)" font-size="42.5">400</text>
<text transform="translate(1217.93 207.40) scale(0.9729 1)" font-size="42.5">350</text>
<text transform="translate(1217.93 326.70) scale(0.9729 1)" font-size="42.5">300</text>
<text transform="translate(1218.36 446.00) scale(0.9660 1)" font-size="42.5">250</text>
<text transform="translate(1218.36 565.30) scale(0.9660 1)" font-size="42.5">200</text>
<text transform="translate(1220.97 684.60) scale(0.9240 1)" font-size="42.5">150</text>
<text transform="translate(1220.97 803.90) scale(0.9240 1)" font-size="42.5">100</text>
<text transform="translate(1281.38 839.00) scale(1.0140 1)" font-size="42.5">0</text>
<text transform="translate(1394.01 839.00) scale(0.9928 1)" font-size="42.5">2</text>
<text transform="translate(1507.18 839.00) scale(0.9668 1)" font-size="42.5">4</text>
<text transform="translate(1618.76 839.00) scale(0.9631 1)" font-size="42.5">6</text>
<text transform="translate(1732.10 839.00) scale(0.8796 1)" font-size="42.5">8</text>
<text transform="translate(1834.54 839.00) scale(0.9304 1)" font-size="42.5">10</text>
<text transform="translate(1470.79 890.10) scale(0.9476 1)" font-size="42.5">Ne · 10</text>
<text transform="translate(1593.50 875.20) scale(0.7910 1)" font-size="29.5">11</text>
<text transform="translate(1618.67 890.10) scale(1.0203 1)" font-size="42.5">, м</text>
<text transform="translate(1667.52 875.20) scale(1.1380 1)" font-size="29.5">−3</text>
</g>
<g stroke="#84959b" stroke-width="1.05" fill="none">
<path d="M1324.3 101.7H1378.0M1324.3 97.5v8.4M1378.0 97.5v8.4"/>
<path d="M1324.3 155.5H1380.7M1324.3 151.3v8.4M1380.7 151.3v8.4"/>
<path d="M1330.8 210.4H1396.9M1330.8 206.2v8.4M1396.9 206.2v8.4"/>
<path d="M1340.4 261.0H1412.6M1340.4 256.8v8.4M1412.6 256.8v8.4"/>
<path d="M1347.0 310.2H1426.8M1347.0 306.0v8.4M1426.8 306.0v8.4"/>
<path d="M1352.0 358.8H1457.5M1352.0 354.6v8.4M1457.5 354.6v8.4"/>
<path d="M1350.0 401.8H1471.7M1350.0 397.6v8.4M1471.7 397.6v8.4"/>
<path d="M1350.0 444.4H1469.8M1350.0 440.2v8.4M1469.8 440.2v8.4"/>
<path d="M1342.7 484.7H1444.0M1342.7 480.5v8.4M1444.0 480.5v8.4"/>
<path d="M1333.5 520.8H1423.0M1333.5 516.6v8.4M1423.0 516.6v8.4"/>
<path d="M1322.0 554.6H1416.0M1322.0 550.4v8.4M1416.0 550.4v8.4"/>
<path d="M1312.4 588.1H1411.0M1312.4 583.9v8.4M1411.0 583.9v8.4"/>
<path d="M1307.2 619.0H1408.6M1307.2 614.8v8.4M1408.6 614.8v8.4"/>
<path d="M1307.6 646.1H1413.3M1307.6 641.9v8.4M1413.3 641.9v8.4"/>
<path d="M1309.5 669.5H1424.0M1309.5 665.3v8.4M1424.0 665.3v8.4"/>
<path d="M1314.3 693.0H1443.8M1314.3 688.8v8.4M1443.8 688.8v8.4"/>
<path d="M1320.0 713.2H1462.1M1320.0 709.0v8.4M1462.1 709.0v8.4"/>
<path d="M1324.6 731.9H1483.8M1324.6 727.7v8.4M1483.8 727.7v8.4"/>
<path d="M1330.7 747.5H1502.1M1330.7 743.3v8.4M1502.1 743.3v8.4"/>
<path d="M1336.0 759.3H1517.3M1336.0 755.1v8.4M1517.3 755.1v8.4"/>
<path d="M1338.3 772.7H1509.3M1338.3 768.5v8.4M1509.3 768.5v8.4"/>
<path d="M1342.9 780.7H1474.3M1342.9 776.5v8.4M1474.3 776.5v8.4"/>
<path d="M1354.3 789.0H1415.2M1354.3 784.8v8.4M1415.2 784.8v8.4"/>
</g>
<g stroke="#93a7b2" stroke-width="1.3"><path d="M1359.2 643.0v6"/><path d="M1394.4 643.0v6"/><path d="M1358.7 666.7v6"/><path d="M1357.4 709.7v6"/><path d="M1357.4 728.4v6"/><path d="M1413.5 728.4v6"/><path d="M1351.9 744.9v6"/><path d="M1347.3 756.8v6"/><path d="M1344.8 769.2v6"/><path d="M1357.4 778.4v6"/><path d="M1373.2 785.7v6"/><path d="M1373.7 551.6v6"/><path d="M1363.6 585.4v6"/><path d="M1433.7 355.8v6"/><path d="M1434.5 398.8v6"/><path d="M1429.9 442.0v6"/><path d="M1441.4 442.0v6"/><path d="M1401.0 482.0v6"/><path d="M1421.0 482.0v6"/><path d="M1387.6 518.0v6"/><path d="M1401.0 518.0v6"/><path d="M1359.6 615.7v6"/><path d="M1384.6 615.7v6"/><path d="M1352.0 98.7v6"/><path d="M1369.2 152.5v6"/><path d="M1395.0 207.4v6"/><path d="M1401.8 258.0v6"/><path d="M1411.4 258.0v6"/><path d="M1415.3 307.2v6"/></g>
<polyline points="1353.9,101.7 1351.9,155.5 1361.5,210.4 1375.0,261.0 1389.2,311.0 1392.2,330.0 1398.8,358.8 1401.8,401.8 1396.0,445.2 1382.6,485.5 1367.3,520.8 1355.8,554.6 1349.6,588.0 1349.8,618.0 1349.8,646.0 1354.8,669.8 1360.0,693.8 1363.8,712.9 1367.6,731.9 1377.1,747.9 1385.5,759.3 1384.8,773.8 1382.9,783.3 1385.5,789.0 1385.5,789.0 1403.8,782.6 1424.8,773.8 1432.4,759.3 1427.4,747.9 1421.7,731.9 1412.2,712.9 1403.0,693.8 1392.3,669.0 1387.9,646.0 1385.6,618.7 1387.5,588.0 1394.2,554.6 1405.7,520.8 1423.0,485.5 1449.8,445.2 1453.7,401.8 1447.0,358.8 1430.6,330.0 1420.3,309.0 1407.6,261.0 1392.2,210.4 1373.0,155.5 1354.5,101.7" fill="none" stroke="#000" stroke-width="4.8" stroke-linejoin="round" stroke-linecap="round"/>
<polyline points="1401.0,101.7 1446.0,210.4 1494.0,309.0 1505.5,330.0 1520.8,358.8 1561.0,401.8 1570.7,445.2 1561.0,485.5 1522.8,520.0 1521.6,554.6 1522.8,588.0 1532.1,619.0 1537.0,646.0 1542.0,669.7 1565.7,693.8 1598.1,712.9 1636.2,731.9 1674.3,747.9 1708.6,759.3 1728.4,771.9 1728.4,781.4 1645.7,789.0" fill="none" stroke="#ed1c24" stroke-width="4.5" stroke-linejoin="round" stroke-linecap="round"/>
</svg></body></html>
